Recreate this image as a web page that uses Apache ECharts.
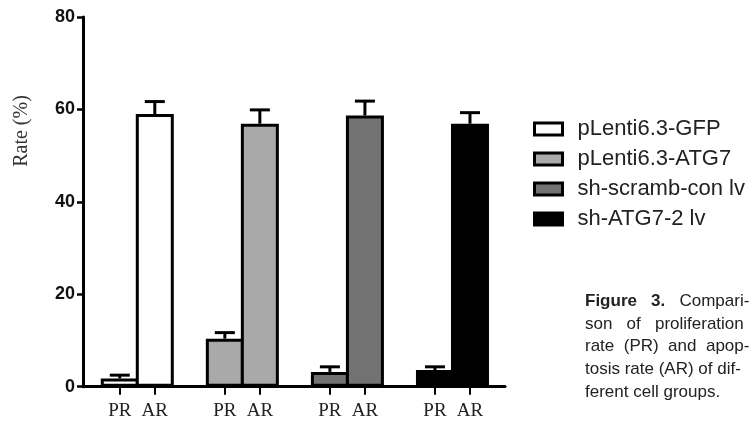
<!DOCTYPE html>
<html><head><meta charset="utf-8">
<script src="https://cdn.jsdelivr.net/npm/echarts@6/dist/echarts.min.js"></script>
<style>html,body{margin:0;padding:0;background:#fff}#c{width:753px;height:422px}</style>
</head><body><div id="c"></div>
<script>
// ---- data ----
const groups = ['pLenti6.3-GFP', 'pLenti6.3-ATG7', 'sh-scramb-con lv', 'sh-ATG7-2 lv'];
const xLabels = ['', 'PR', 'AR', '', 'PR', 'AR', '', 'PR', 'AR', '', 'PR', 'AR', ''];
const prRate = [1.8, 10.4, 3.2, 3.6];
const prErr = [0.7, 1.3, 1.1, 0.7];
const arRate = [59.0, 56.9, 58.7, 56.9];
const arErr = [2.7, 3.0, 3.1, 2.4];
const yTicks = [0, 20, 40, 60, 80];
const yName = 'Rate (%)';
const captionLines = [
  '{b|Figure   3.}   Compari-',
  'son   of   proliferation',
  'rate  (PR)  and  apop-',
  'tosis rate (AR) of dif-',
  'ferent cell groups.'
];
// ---- styles ----
const fills = ['#ffffff', '#a9a9a9', '#727272', '#000000'];

const prIdx = [], arIdx = [], tickPos = [];
xLabels.forEach((l, i) => {
  if (l === 'PR') prIdx.push(i);
  if (l === 'AR') arIdx.push(i);
  if (l !== '') tickPos.push(i);
});

const barSeries = groups.map((name, g) => ({
  type: 'bar',
  name: name,
  data: [[prIdx[g], prRate[g]], [arIdx[g], arRate[g]]],
  barWidth: 38,
  barGap: '-100%',
  itemStyle: { color: fills[g], borderColor: '#000', borderWidth: 3 },
  z: 2,
  silent: true
}));

const errData = [];
groups.forEach((_, g) => {
  errData.push([prIdx[g], prRate[g], prErr[g]]);
  errData.push([arIdx[g], arRate[g], arErr[g]]);
});

const capFont = "'Liberation Sans', Arial, sans-serif";
const chart = echarts.init(document.getElementById('c'), null, { renderer: 'canvas' });
chart.setOption({
  animation: false,
  backgroundColor: '#fff',
  grid: { left: 83, right: 248, top: 17, bottom: 35.3 },
  title: {
    text: captionLines.join('\n'),
    left: 580, top: 285,
    textStyle: {
      fontSize: 17, fontWeight: 'normal', color: '#222',
      fontFamily: capFont,
      lineHeight: 22.7,
      rich: {
        b: { fontSize: 17, fontWeight: 'bold', color: '#222', lineHeight: 22.7, fontFamily: capFont }
      }
    }
  },
  legend: {
    data: groups,
    orient: 'vertical',
    left: 528, top: 113,
    icon: 'rect',
    itemWidth: 28, itemHeight: 12,
    itemGap: 8,
    itemStyle: { borderColor: '#000', borderWidth: 3 },
    textStyle: { fontSize: 22, color: '#222', fontFamily: "'Liberation Sans', Arial, sans-serif", padding: [0, 0, 0, 10] }
  },
  xAxis: {
    type: 'value',
    min: -0.05, max: xLabels.length - 1,
    axisLine: { show: true, onZero: false, lineStyle: { color: '#000', width: 3 } },
    axisTick: { show: true, length: 8, lineStyle: { color: '#000', width: 2 }, customValues: tickPos },
    axisLabel: { customValues: tickPos, formatter: v => xLabels[Math.round(v)] || '',
                 margin: 15, fontSize: 19, color: '#222',
                 fontFamily: "'Liberation Serif', 'Times New Roman', serif" },
    splitLine: { show: false }
  },
  yAxis: {
    type: 'value',
    min: yTicks[0], max: yTicks[yTicks.length - 1], interval: yTicks[1] - yTicks[0],
    axisLine: { show: true, onZero: false, lineStyle: { color: '#000', width: 3 } },
    axisTick: { show: true, length: 6, lineStyle: { color: '#000', width: 2.5 } },
    axisLabel: { margin: 8, fontSize: 18, fontWeight: 'bold', color: '#111',
                 fontFamily: "'Liberation Sans', Arial, sans-serif" },
    splitLine: { show: false }
  },
  graphic: [{
    type: 'text',
    x: 22, y: 131,
    rotation: Math.PI / 2,
    style: {
      text: yName,
      fontSize: 20,
      fontFamily: "'Liberation Serif', 'Times New Roman', serif",
      fill: '#333',
      align: 'center',
      verticalAlign: 'middle'
    }
  }],
  series: barSeries.concat([{
    type: 'custom',
    name: 'err',
    data: errData,
    encode: { x: 0, y: 1 },
    z: 5,
    silent: true,
    renderItem: function (params, api) {
      const x = api.value(0), v = api.value(1), e = api.value(2);
      const p0 = api.coord([x, v]);
      const p1 = api.coord([x, v + e]);
      const hw = 10;
      return {
        type: 'group',
        children: [
          { type: 'line', shape: { x1: p0[0], y1: p0[1], x2: p1[0], y2: p1[1] },
            style: { stroke: '#000', lineWidth: 3 } },
          { type: 'line', shape: { x1: p1[0] - hw, y1: p1[1], x2: p1[0] + hw, y2: p1[1] },
            style: { stroke: '#000', lineWidth: 3 } }
        ]
      };
    }
  }])
});
</script>
</body></html>
